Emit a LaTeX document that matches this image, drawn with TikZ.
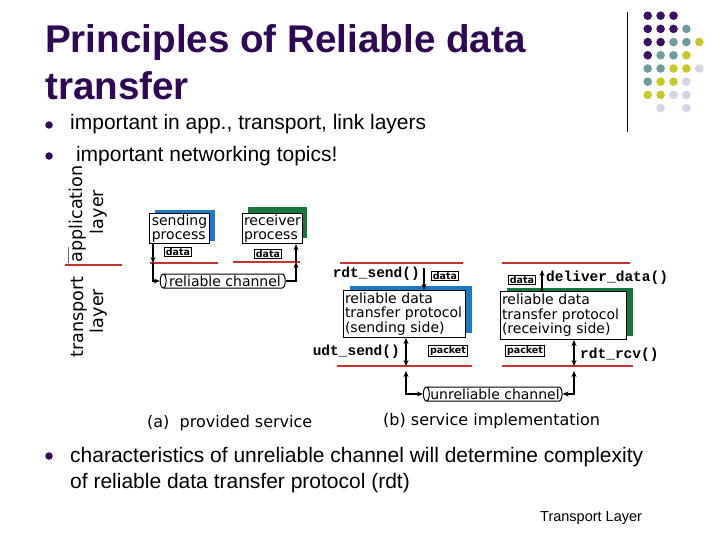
\documentclass[tikz,border=0pt]{standalone}
\usepackage{fontspec}
\setmainfont{Liberation Sans}
\setmonofont{Liberation Mono}
\newfontfamily\diagfont{DejaVu Sans}
\usetikzlibrary{shapes.geometric,shadows,positioning,arrows.meta}

\definecolor{titlepurple}{RGB}{46,8,84}
\definecolor{dotpurple}{RGB}{58,16,100}
\definecolor{dotteal}{RGB}{110,155,155}
\definecolor{dotyellow}{RGB}{200,200,40}
\definecolor{dotlilac}{RGB}{212,212,230}
\definecolor{barred}{RGB}{200,52,45}
\definecolor{sendblue}{RGB}{30,120,200}
\definecolor{recvgreen}{RGB}{20,120,60}

\begin{document}
\begin{tikzpicture}[x=1pt, y=-1pt,
    heading/.style  = {anchor=base west, inner sep=0pt, text=titlepurple,
                       font=\fontsize{38.6}{40}\selectfont\bfseries},
    point/.style    = {anchor=base west, inner sep=0pt,
                       font=\fontsize{21}{26}\selectfont},
    bulletdot/.style= {circle, fill=titlepurple, inner sep=0pt, minimum size=7.5pt},
    layerlbl/.style = {rotate=90, inner sep=0pt, font=\diagfont\fontsize{17.6}{18}\selectfont},
    redbar/.style   = {draw=barred, line width=2.6pt},
    proc/.style     = {draw, fill=white, line width=1pt, inner sep=1.5pt,
                       align=left, anchor=north west},
    tag/.style      = {draw, line width=1pt, inner sep=1.2pt,
                       font=\diagfont\fontsize{9.5}{10}\selectfont\bfseries},
    fn/.style       = {inner sep=0pt, font=\fontsize{14.5}{15}\selectfont\ttfamily\bfseries},
    chan/.style     = {cylinder, draw, fill=white, line width=1pt,
                       shape border rotate=180, aspect=0.5,
                       minimum width=14pt, inner sep=0.5pt,
                       font=\diagfont\fontsize{14}{14}\selectfont},
    flow/.style     = {->, >={Stealth[length=6pt, width=5pt]}, line width=1.2pt},
    caption/.style  = {anchor=base west, inner sep=0pt, font=\diagfont\fontsize{16}{16}\selectfont},
]
\useasboundingbox (0,0) rectangle (720,540);

% ============================================================
%  Heading, bullets, footer
% ============================================================
\node[heading] (ttl1) at (45,53)  {Principles of Reliable data};
\node[heading] (ttl2) at (45,100) {transfer};

\node[point] (pt1) at (70,130) {important in app., transport, link layers};
\node[point] (pt2) at (70,162) {\ important networking topics!};
\node[point, anchor=north west, align=left] (pt3) at (70,447)
    {characteristics of unreliable channel will determine complexity\\
     of reliable data transfer protocol (rdt)};
\node[bulletdot] (b1) at (49,125) {};
\node[bulletdot] (b2) at (49,156) {};
\node[bulletdot] (b3) at (49,456) {};
\node[anchor=base west, inner sep=0pt, font=\fontsize{14.5}{15}\selectfont]
    (footer) at (540,521) {Transport Layer};

% ============================================================
%  Dot pattern, top right
% ============================================================
\draw[line width=0.8pt] (627,12) -- (627,132);
\foreach \r/\c/\col in {0/0/dotpurple,0/1/dotpurple,0/2/dotpurple,
    1/0/dotpurple,1/1/dotpurple,1/2/dotpurple,1/3/dotteal,
    2/0/dotpurple,2/1/dotpurple,2/2/dotteal,2/3/dotteal,2/4/dotyellow,
    3/0/dotpurple,3/1/dotteal,3/2/dotteal,3/3/dotyellow,
    4/0/dotteal,4/1/dotteal,4/2/dotyellow,4/3/dotyellow,4/4/dotlilac,
    5/0/dotteal,5/1/dotyellow,5/2/dotyellow,5/3/dotlilac,
    6/0/dotyellow,6/1/dotyellow,6/2/dotlilac,6/3/dotlilac,
    7/1/dotlilac,7/3/dotlilac}
  \fill[\col] (647.7+12.9*\c, 15.7+13.2*\r) circle (4.3pt);

% ============================================================
%  (a) provided service
% ============================================================
\node[layerlbl] (applbl) at (78,214)  {application};
\node[layerlbl] (applyr) at (99,212)  {layer};
\node[layerlbl] (trplbl) at (79,317)  {transport};
\node[layerlbl] (trplyr) at (99,311)  {layer};
\draw[line width=0.8pt, black!60] (68,247) -- (68,263);
\draw[redbar] (65,265) -- (122,265);

\node[proc, minimum width=60pt, minimum height=28pt,
      font=\diagfont\fontsize{14}{13.5}\selectfont,
      general shadow={fill=sendblue, shadow xshift=5pt, shadow yshift=3pt}]
    (sendp) at (149,213) {sending\\process};
\node[proc, minimum width=55pt, minimum height=28pt,
      font=\diagfont\fontsize{14}{13.5}\selectfont,
      general shadow={fill=recvgreen, shadow xshift=5pt, shadow yshift=6pt}]
    (recvp) at (242,213) {receiver\\process};
\node[tag] (dataa) at (178,252) {data};
\node[tag] (datab) at (268,254) {data};

\draw[redbar] (150,263) -- (218,263);
\draw[redbar] (233,262) -- (300,262);

\node[chan, minimum height=125pt] (relch) at (225,281) {reliable channel};

\coordinate (sa) at (153,263);
\coordinate (ra) at (296,262);
\draw[flow] (sendp.south -| sa) -- (sa);
\draw[flow] (sa) |- (relch.west);
\draw[flow] (relch.east) -| (ra);
\draw[flow] (ra) -- (ra |- recvp.south);

\node[caption] (capa) at (147,427) {(a)\ \ provided service};

% ============================================================
%  (b) service implementation
% ============================================================
\draw[redbar] (340,263) -- (463,263);
\draw[redbar] (502,263) -- (630,263);
\draw[redbar] (337,366) -- (472,366);
\draw[redbar] (502,366) -- (633,366);

\node[proc, text width=119pt, minimum height=47pt,
      font=\diagfont\fontsize{14}{14.5}\selectfont,
      general shadow={fill=sendblue, shadow xshift=6pt, shadow yshift=5pt}]
    (sendrdt) at (343,290)
    {reliable data\\transfer protocol\\(sending side)};
\node[proc, text width=123pt, minimum height=48pt,
      font=\diagfont\fontsize{14}{14.5}\selectfont,
      general shadow={fill=recvgreen, shadow xshift=6pt, shadow yshift=4pt}]
    (recvrdt) at (500,291)
    {reliable data\\transfer protocol\\(receiving side)};

\node[fn, anchor=east] (rdtsend) at (420,274) {rdt\_send()};
\node[fn, anchor=east] (udtsend) at (400,352) {udt\_send()};
\node[fn, anchor=west] (deliver) at (546,278) {deliver\_data()};
\node[fn, anchor=west] (rdtrcv)  at (580,355) {rdt\_rcv()};

\node[tag] (datas)   at (445,276) {data};
\node[tag] (datar)   at (522,280) {data};
\node[tag] (packets) at (448,351) {packet};
\node[tag] (packetr) at (525,351) {packet};

\node[chan, minimum height=136pt] (unrel) at (495,394) {unreliable channel};

\coordinate (sd) at (424,268);
\coordinate (ud) at (406,366);
\coordinate (ul) at (406,371);
\coordinate (ur) at (574,371);
\coordinate (rr) at (574,366);
\coordinate (dd) at (542,270);
\draw[flow] (sd) -- (sd |- sendrdt.north);
\draw[flow, <->] (sendrdt.south -| ud) -- (ud);
\draw[flow, <->] (ul) |- (unrel.west);
\draw[flow, <->] (unrel.east) -| (ur);
\draw[flow, <->] (rr) -- (rr |- recvrdt.south);
\draw[flow] (dd |- recvrdt.north) -- (dd);

\node[caption] (capb) at (383,425) {(b) service implementation};

\end{tikzpicture}
\end{document}
